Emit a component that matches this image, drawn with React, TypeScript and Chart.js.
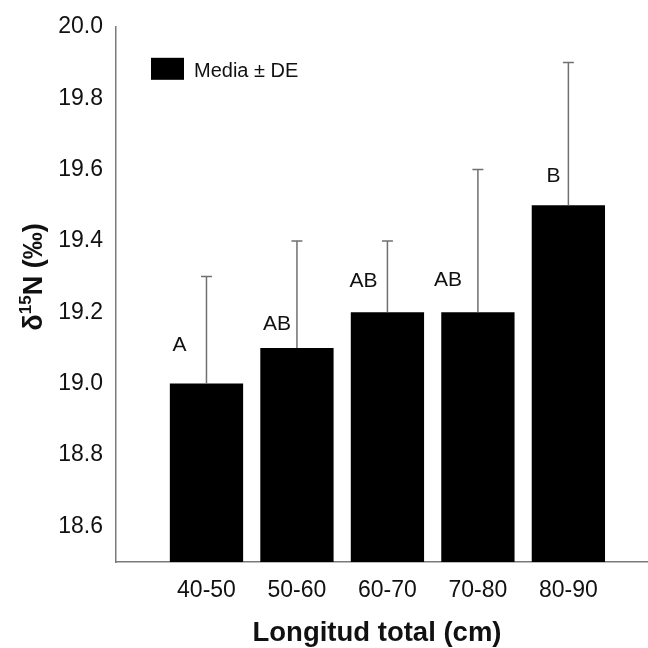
import React, { useEffect, useRef } from "react";
import { Chart, registerables } from "chart.js";

Chart.register(...registerables);

const categories = ["40-50", "50-60", "60-70", "70-80", "80-90"];
const means = [19.0, 19.1, 19.2, 19.2, 19.5];
const sds = [0.3, 0.3, 0.2, 0.4, 0.4];
const letters = ["A", "AB", "AB", "AB", "B"];
const yTicks = [18.6, 18.8, 19.0, 19.2, 19.4, 19.6, 19.8, 20.0];
const seriesLabel = "Media ± DE";
const xTitle = "Longitud total (cm)";

// style offsets for the significance letters (pixels relative to bar centre / top)
const letterDx = [-27, -20, -24, -30, -15];
const letterDy = [38, 24, 31, 32, 29];

const FONT = "'Liberation Sans', Arial, Helvetica, sans-serif";
const AXIS_GRAY = "#7a7a7a";

const overlay = {
  id: "overlay",
  afterDatasetsDraw(chart: any) {
    const ctx = chart.ctx;
    const meta = chart.getDatasetMeta(0);
    const ys = chart.scales.y;
    ctx.save();
    meta.data.forEach((bar: any, i: number) => {
      const x = bar.x;
      const yTop = bar.y;
      const yErr = ys.getPixelForValue(means[i] + sds[i]);
      ctx.strokeStyle = "#707070";
      ctx.lineWidth = 1.5;
      ctx.beginPath();
      ctx.moveTo(x, yTop);
      ctx.lineTo(x, yErr);
      ctx.moveTo(x - 5.5, yErr);
      ctx.lineTo(x + 5.5, yErr);
      ctx.stroke();
      ctx.fillStyle = "#111";
      ctx.font = `21px ${FONT}`;
      ctx.textAlign = "center";
      ctx.textBaseline = "middle";
      ctx.fillText(letters[i], x + letterDx[i], yTop - letterDy[i]);
    });
    ctx.restore();
  },
  afterDraw(chart: any) {
    const ctx = chart.ctx;
    const ca = chart.chartArea;
    ctx.save();
    // legend
    ctx.fillStyle = "#000";
    ctx.fillRect(ca.left + 35, ca.top + 31, 33, 22);
    ctx.fillStyle = "#111";
    ctx.font = `20px ${FONT}`;
    ctx.textAlign = "left";
    ctx.textBaseline = "middle";
    ctx.fillText(seriesLabel, ca.left + 78, ca.top + 45);

    // x title
    ctx.font = `bold 27.5px ${FONT}`;
    ctx.textAlign = "center";
    ctx.textBaseline = "middle";
    ctx.fillText(xTitle, 377, 633);

    // y title with superscript
    ctx.translate(33, 277);
    ctx.rotate(-Math.PI / 2);
    const big = `bold 27px ${FONT}`;
    const small = `bold 17px ${FONT}`;
    ctx.font = big;
    const wD = ctx.measureText("δ").width;
    const wRest = ctx.measureText("N (‰)").width;
    ctx.font = small;
    const w15 = ctx.measureText("15").width;
    const total = wD + w15 + wRest;
    let x0 = -total / 2;
    ctx.textAlign = "left";
    ctx.textBaseline = "alphabetic";
    ctx.font = big;
    ctx.fillText("δ", x0, 9);
    x0 += wD;
    ctx.font = small;
    ctx.fillText("15", x0, -2);
    x0 += w15;
    ctx.font = big;
    ctx.fillText("N (‰)", x0, 9);
    ctx.restore();
  },
};

export default function App() {
  const ref = useRef<HTMLCanvasElement | null>(null);
  useEffect(() => {
    if (!ref.current) return;
    const chart = new Chart(ref.current, {
      type: "bar",
      data: {
        datasets: [
          {
            label: seriesLabel,
            data: means.map((m, i) => ({ x: i + 1, y: m })),
            backgroundColor: "#000",
            borderWidth: 0,
            barPercentage: 0.81,
            categoryPercentage: 1,
          },
        ],
      },
      options: {
        responsive: false,
        animation: false,
        layout: { padding: { top: 20, left: 0, right: 0, bottom: 0 } },
        plugins: {
          legend: { display: false },
          tooltip: { enabled: false },
        },
        scales: {
          x: {
            type: "linear",
            min: 0,
            max: 5.88,
            offset: false,
            grid: { display: false, drawTicks: false, offset: false },
            border: { display: true, color: AXIS_GRAY, width: 1.5 },
            ticks: {
              padding: 15,
              color: "#111",
              font: { size: 23, family: FONT },
              callback: (v: any) => categories[Number(v) - 1] ?? "",
            },
            afterBuildTicks: (s: any) => {
              s.ticks = categories.map((_, i) => ({ value: i + 1 }));
            },
            afterFit: (s: any) => {
              s.height = 86;
            },
          },
          y: {
            min: 18.5,
            max: 20.0,
            grid: { display: false, drawTicks: false },
            border: { display: true, color: AXIS_GRAY, width: 1.5 },
            ticks: {
              padding: 13,
              color: "#111",
              font: { size: 23, family: FONT },
              callback: (v: any) => Number(v).toFixed(1),
            },
            afterBuildTicks: (s: any) => {
              s.ticks = yTicks.map((v) => ({ value: v }));
            },
            afterFit: (s: any) => {
              s.width = 116;
            },
          },
        },
      },
      plugins: [overlay],
    } as any);
    return () => chart.destroy();
  }, []);
  return (
    <div style={{ position: "fixed", left: 0, top: 0, width: 648, height: 648, background: "#fff" }}>
      <canvas ref={ref} width={648} height={648} />
    </div>
  );
}
